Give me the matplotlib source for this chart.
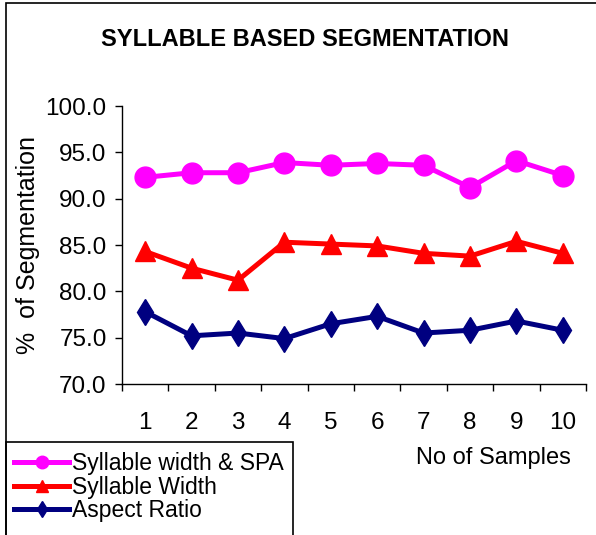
"""Line chart of segmentation accuracy per sample for three syllable features."""

import matplotlib

matplotlib.use("Agg")
import matplotlib.pyplot as plt
from matplotlib.lines import Line2D
from matplotlib.patches import Rectangle

samples = [1, 2, 3, 4, 5, 6, 7, 8, 9, 10]
width_spa = [92.3, 92.8, 92.8, 93.9, 93.6, 93.8, 93.6, 91.2, 94.1, 92.5]
syllable_width = [84.3, 82.5, 81.2, 85.3, 85.1, 84.9, 84.1, 83.8, 85.4, 84.1]
aspect_ratio = [77.8, 75.2, 75.5, 74.9, 76.5, 77.3, 75.5, 75.8, 76.8, 75.8]
series_labels = ["Syllable width & SPA", "Syllable Width", "Aspect Ratio"]

plt.rcParams["font.family"] = ["Liberation Sans", "DejaVu Sans"]

W, H = 596, 535
fig = plt.figure(figsize=(W / 100, H / 100), dpi=100)
ax = fig.add_axes([122 / W, 1 - 384 / H, (586 - 122) / W, (384 - 106) / H])

styles = [
    (width_spa, "#FF00FF", "o", 15),
    (syllable_width, "#FF0000", "^", 14),
    (aspect_ratio, "#000080", "d", 13),
]
for values, color, marker, ms in styles:
    ax.plot(samples, values, color=color, lw=3.6, marker=marker, ms=ms,
            markeredgecolor=color, clip_on=False)

ax.set_ylim(70, 100)
ax.set_yticks([70, 75, 80, 85, 90, 95, 100])
ax.set_yticklabels([f"{v:.1f}" for v in [70, 75, 80, 85, 90, 95, 100]])
ax.set_xlim(0.5, 10.5)
ax.set_xticks(samples)
ax.set_xticklabels([str(s) for s in samples])
ax.set_xticks([s - 0.5 for s in samples] + [10.5], minor=True)
ax.tick_params(axis="x", which="major", length=0, pad=20, labelsize=17.5)
ax.tick_params(axis="x", which="minor", length=5, width=1, direction="out")
ax.tick_params(axis="y", length=5, width=1, pad=6, labelsize=17.5)
for side in ("top", "right"):
    ax.spines[side].set_visible(False)
for side in ("left", "bottom"):
    ax.spines[side].set_linewidth(1)

ax.set_ylabel("%  of Segmentation", fontsize=18, labelpad=4)
fig.text(493 / W, 1 - 458 / H, "No of Samples", fontsize=17, ha="center", va="center")
fig.text(305 / W, 1 - 40 / H, "SYLLABLE BASED SEGMENTATION", fontsize=17,
         fontweight="bold", ha="center", va="center")

# outer chart area border (only top and left edges fall inside the image)
fig.patches.append(Rectangle((6 / W, -0.1), 1.2, 1.1 - 3 / H, transform=fig.transFigure,
                             fill=False, edgecolor="black", lw=1.2))
# legend box, running off the bottom edge
fig.patches.append(Rectangle((6 / W, -0.1), (293 - 6) / W, 0.1 + 1 - 442 / H,
                             transform=fig.transFigure, fill=False,
                             edgecolor="black", lw=1.2))

handles = [
    Line2D([], [], color=c, lw=3.6, marker=m, ms=ms * 0.6, markeredgecolor=c)
    for _, c, m, ms in styles
]
fig.legend(handles, series_labels, loc="upper left",
           bbox_to_anchor=(6 / W, 1 - 444 / H), bbox_transform=fig.transFigure,
           fontsize=16.5, frameon=False,
           borderaxespad=0, borderpad=0.35, labelspacing=0.03,
           handlelength=2.4, handletextpad=0.15)

fig.savefig("out.png", dpi=100)
